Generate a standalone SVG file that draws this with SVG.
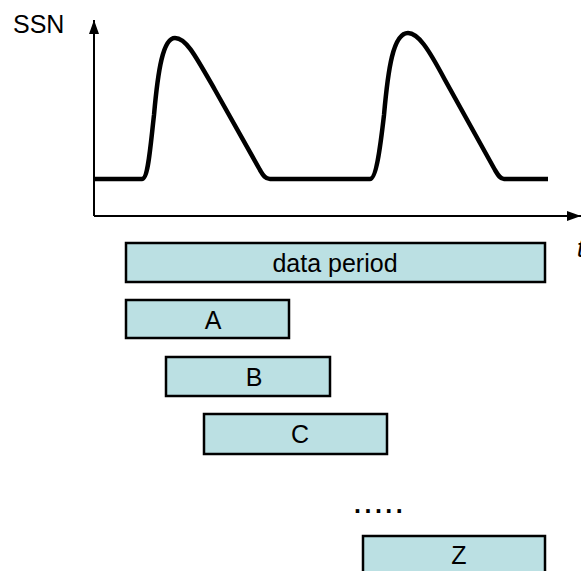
<svg xmlns="http://www.w3.org/2000/svg" width="581" height="571" viewBox="0 0 581 571">
<defs>
<style>
text{font-family:"Liberation Sans",Arial,sans-serif;font-size:25px;fill:#000}
.box rect{fill:#BBE0E3;stroke:#000;stroke-width:2.5}
.box text{text-anchor:middle}
.axis{stroke:#000;stroke-width:2;fill:none}
</style>
<marker id="arrx" viewBox="0 0 14 10" refX="14" refY="5" markerWidth="14" markerHeight="11" markerUnits="userSpaceOnUse" orient="auto">
<path d="M0,0 L14,5 L0,10 z" fill="#000"/>
</marker>
</defs>
<g id="connectors">
<path class="axis" d="M94,216 V20" marker-end="url(#arrx)"/>
<path class="axis" d="M94,216 H581" marker-end="url(#arrx)"/>
</g>
<path id="curve" d="M94,179 H142 C148,179 150,150 154,115 C158,70 163,38 175,38 C186,38 195,55 215,90 L260,170 C263,175 265,179 270,179 H370 C376,179 380,150 384,115 C388,70 393,33 408,33 C418,33 428,48 445,80 L495,170 C498,175 500,179 504,179 H548" fill="none" stroke="#000" stroke-width="4.5" stroke-linejoin="round"/>
<text x="13" y="33" font-size="24">SSN</text>
<text x="577" y="257" font-style="italic" font-size="24">t</text>
<g id="data-period" class="box"><rect x="126" y="243" width="419" height="39"/><text x="335" y="272">data period</text></g>
<g id="A" class="box"><rect x="126" y="300" width="163" height="38"/><text x="213" y="329">A</text></g>
<g id="B" class="box"><rect x="166" y="357" width="164" height="39"/><text x="254" y="386">B</text></g>
<g id="C" class="box"><rect x="204" y="414" width="183" height="40"/><text x="300" y="443">C</text></g>
<text x="354" y="513" letter-spacing="3.5" font-weight="bold">.....</text>
<g id="Z" class="box"><rect x="363" y="536" width="182" height="40"/><text x="459" y="564">Z</text></g>
</svg>
